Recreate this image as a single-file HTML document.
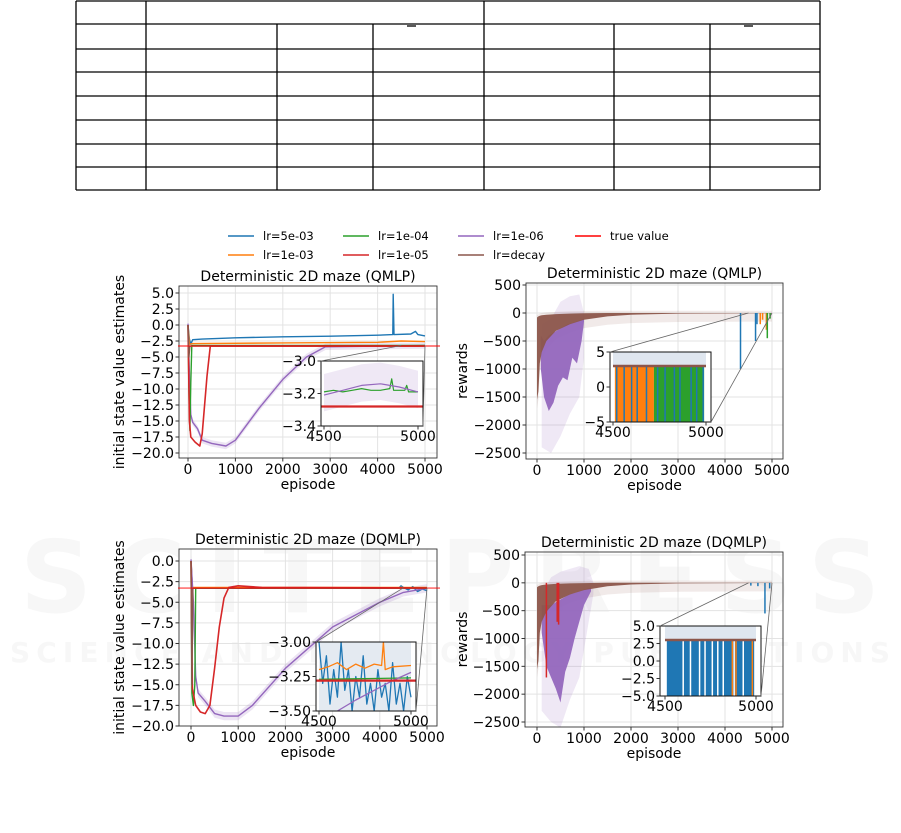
<!DOCTYPE html>
<html><head><meta charset="utf-8"><style>
html,body{margin:0;padding:0;background:#fff;}
svg{display:block;font-family:"DejaVu Sans","Liberation Sans",sans-serif;}
</style></head><body>
<svg id="c" width="901" height="833" viewBox="0 0 901 833" xmlns="http://www.w3.org/2000/svg">
<g fill="#f7f7f7" font-weight="bold">
<text x="450" y="612" font-size="100" text-anchor="middle" textLength="860">SCITEPRESS</text>
<text x="450" y="662" font-size="28" text-anchor="middle" textLength="880">SCIENCE AND TECHNOLOGY PUBLICATIONS</text>
</g>
<g id="table" stroke="#000" stroke-width="1.3"></g>
<g id="legend" font-size="11.5"></g>
<g id="plots"></g>
</svg>
<script>
// ---------- data ----------
const xTicks = [0,1000,2000,3000,4000,5000];
const valTicks1 = [5.0,2.5,0.0,-2.5,-5.0,-7.5,-10.0,-12.5,-15.0,-17.5,-20.0];
const valTicks2 = [0.0,-2.5,-5.0,-7.5,-10.0,-12.5,-15.0,-17.5,-20.0];
const rewTicks = [500,0,-500,-1000,-1500,-2000,-2500];
const trueValue = -3.28;
const seriesNames = ["lr=5e-03","lr=1e-03","lr=1e-04","lr=1e-05","lr=1e-06","lr=decay","true value"];
const seriesColors = ["#1f77b4","#ff7f0e","#2ca02c","#d62728","#9467bd","#8c564b","#ff0000"];

const q1Blue = [[0,0],[30,-2.2],[60,-3],[100,-2.3],[300,-2.2],[1000,-2.0],[2000,-1.85],[3000,-1.75],[4000,-1.6],[4320,-1.5],[4330,4.8],[4345,-1.5],[4700,-1.4],[4800,-1.0],[4850,-1.5],[5000,-1.7]];
const q1Orange = [[0,0],[30,-3.0],[100,-2.9],[2000,-2.8],[4000,-2.7],[4500,-2.5],[5000,-2.6]];
const q1Green = [[0,0],[20,-10],[40,-16.5],[60,-9],[80,-3.2],[5000,-3.2]];
const q1Red = [[0,0],[30,-15],[60,-17.5],[150,-18.3],[250,-18.9],[300,-17],[400,-8],[470,-3.3],[5000,-3.3]];
const q1Purple = [[0,0.2],[20,-5],[60,-14],[100,-15.2],[200,-16.2],[300,-18],[500,-18.5],[800,-18.9],[1000,-18],[1500,-13],[2000,-8.5],[2500,-5],[2900,-3.4],[5000,-3.2]];
const q1Brown = [[0,0],[20,-5],[40,-3.3],[5000,-3.3]];
const q1InsetGreen = [[4500,-3.19],[4550,-3.18],[4600,-3.19],[4650,-3.18],[4700,-3.17],[4750,-3.18],[4800,-3.18],[4850,-3.17],[4860,-3.11],[4870,-3.18],[4930,-3.18],[4940,-3.15],[4950,-3.19],[5000,-3.19]];
const q1InsetPurple = [[4500,-3.21],[4600,-3.18],[4700,-3.15],[4800,-3.14],[4900,-3.16],[5000,-3.19]];

const r1Brown = [[0,-1550,-80],[30,-1400,-60],[60,-900,-50],[100,-700,-40],[200,-500,-30],[400,-320,-20],[700,-200,-10],[1000,-120,-5],[1500,-60,0],[2000,-30,0],[3000,-10,0],[5000,-3,0]];
const r1Purple = [[80,-1000,-400],[150,-1500,-500],[250,-1750,-400],[350,-1600,-350],[450,-1300,-300],[550,-1150,-250],[650,-1200,-200],[750,-800,-180],[850,-900,-150],[950,-500,-120],[1000,-150,-100]];
const r1PurpleStd = [[100,-2400,-200],[300,-2500,-100],[500,-2200,200],[700,-1800,300],[900,-1500,330],[1000,-800,0]];
const r1BlueSpikes = [[4330,-1000],[4650,-500],[4680,-200]];
const r1OrangeSpikes = [[4750,-200],[4800,-120],[4880,-300]];
const r1GreenSpikes = [[4900,-450],[4960,-100]];
const i3Orange = [[4510,4720]];
const i3Green = [[4720,4990]];
const i3BlueStripes = [4520,4560,4600,4630,4680,4740,4780,4830,4860,4920,4950,4985];

const q2Blue = [[0,0],[30,-3.3],[4400,-3.3],[4450,-3.0],[4500,-3.2],[4600,-3.5],[4700,-3.1],[4800,-3.7],[4900,-3.4],[5000,-3.6]];
const q2Orange = [[0,0],[30,-3.2],[5000,-3.2]];
const q2Green = [[0,0],[20,-16],[50,-17.5],[80,-15],[100,-3.3],[5000,-3.27]];
const q2Red = [[0,0],[30,-15.5],[100,-17.5],[200,-18.3],[300,-18.5],[400,-17.5],[500,-13],[600,-8],[700,-4.5],[800,-3.2],[1000,-3.0],[1500,-3.2],[5000,-3.27]];
const q2Purple = [[0,0.2],[50,-5],[100,-14],[150,-16],[300,-17],[500,-18.5],[700,-18.8],[1000,-18.8],[1300,-17.5],[2000,-13],[3000,-8],[4000,-5],[4500,-3.8],[5000,-3.3]];
const q2Brown = [[0,0],[20,-15],[40,-3.3],[5000,-3.3]];
const i4Blue = [[4500,-3.0],[4520,-3.3],[4540,-3.1],[4560,-3.45],[4580,-3.2],[4600,-3.4],[4620,-3.0],[4640,-3.35],[4660,-3.2],[4680,-3.5],[4700,-3.25],[4720,-3.4],[4740,-3.1],[4760,-3.45],[4780,-3.3],[4800,-3.5],[4820,-3.2],[4840,-3.4],[4860,-3.3],[4880,-3.5],[4900,-3.15],[4920,-3.45],[4940,-3.3],[4960,-3.5],[4980,-3.25],[5000,-3.4]];
const i4Orange = [[4500,-3.2],[4550,-3.18],[4600,-3.15],[4650,-3.2],[4700,-3.16],[4750,-3.19],[4800,-3.16],[4840,-3.17],[4850,-3.0],[4860,-3.2],[4900,-3.18],[5000,-3.17]];
const i4Green = [[4500,-3.27],[5000,-3.26]];
const i4Purple = [[4600,-3.5],[4700,-3.42],[4800,-3.35],[4900,-3.28],[5000,-3.22]];

const r2Brown = [[0,-1550,-80],[30,-1400,-60],[60,-900,-50],[100,-700,-40],[200,-520,-30],[400,-330,-20],[700,-210,-10],[1000,-130,-5],[1500,-60,0],[2000,-30,0],[3000,-10,0],[5000,-3,0]];
const r2Purple = [[100,-900,-400],[200,-1500,-400],[300,-1700,-400],[400,-1900,-350],[500,-2150,-300],[600,-1600,-250],[700,-1350,-200],[800,-1000,-180],[900,-700,-150],[1000,-400,-120],[1150,-150,-80]];
const r2PurpleStd = [[100,-2300,-200],[300,-2500,100],[500,-2600,200],[700,-2100,250],[900,-1700,300],[1100,-700,250],[1200,-200,0]];
const r2RedSpikes = [[200,-1700],[430,-700],[460,-750]];
const r2BlueSpikes = [[4550,-50],[4700,-60],[4850,-550],[4950,-100]];
const i5Blue = [[4510,4990]];
const i5WhiteGaps = [4600,4640,4690,4720,4760,4790,4820,4880,4930];
const i5OrangeStripes = [4870,4890,4980];

// ---------- helpers ----------
const NS = "http://www.w3.org/2000/svg";
const svg = document.getElementById('c');
function el(tag, attrs, parent){ const e=document.createElementNS(NS,tag); for(const k in attrs) e.setAttribute(k,attrs[k]); (parent||svg).appendChild(e); return e; }
function lin(d0,d1,r0,r1){ return v => r0+(v-d0)*(r1-r0)/(d1-d0); }
function fmt(v,dec){ const s=Math.abs(v).toFixed(dec); return (v<0?"\u2212":"")+s; }
function linePath(pts,X,Y){ return pts.map((p,i)=>(i?'L':'M')+X(p[0]).toFixed(1)+','+Y(p[1]).toFixed(1)).join(''); }
function bandPath(pts,X,Y){ let d=pts.map((p,i)=>(i?'L':'M')+X(p[0]).toFixed(1)+','+Y(p[2]).toFixed(1)).join(''); for(let i=pts.length-1;i>=0;i--) d+='L'+X(pts[i][0]).toFixed(1)+','+Y(pts[i][1]).toFixed(1); return d+'Z'; }

// ---------- table ----------
const tbl = document.getElementById('table');
const rowsY=[1,24,49,72,96,120,144,167,190];
const colX=[76,146,277,373,484,614,710,820];
rowsY.forEach(y=>{ const l=el('line',{x1:76,x2:820,y1:y,y2:y},tbl);   });
colX.forEach((x,i)=>{ const top=(i===0||i===1||i===4||i===7)?1:24; const l=el('line',{x1:x,x2:x,y1:top,y2:190},tbl);   });
el('line',{x1:407,x2:416,y1:26,y2:26},tbl);
el('line',{x1:744,x2:753,y1:26,y2:26},tbl);

// ---------- legend ----------
const lg=document.getElementById('legend');
const legPos=[[228,236],[228,255],[343,236],[343,255],[458,236],[458,255],[575,236]];
seriesNames.forEach((n,i)=>{
  const g=el('g',{},lg);
  
  
  const [x,y]=legPos[i];
  el('line',{x1:x,x2:x+26,y1:y,y2:y,stroke:seriesColors[i],'stroke-width':1.6},g);
  const t=el('text',{x:x+35,y:y+4,fill:'#000'},g); t.textContent=n;
});

// ---------- panel builder ----------
const FS=14;
const plots=document.getElementById('plots');
function panel(cfg){
  const g=el('g',{},plots);
  
  
  const X=lin(0,5000,cfg.x0,cfg.x5000), Y=lin(cfg.yv0,cfg.yv1,cfg.yp0,cfg.yp1);
  const clipId=cfg.name+'-clip';
  const cp=el('clipPath',{id:clipId},g); el('rect',{x:cfg.L,y:cfg.T,width:cfg.R-cfg.L,height:cfg.B-cfg.T},cp);
  xTicks.forEach(v=>el('line',{x1:X(v),x2:X(v),y1:cfg.T,y2:cfg.B,stroke:'#e3e3e3','stroke-width':1},g));
  cfg.yTicks.forEach(v=>el('line',{x1:cfg.L,x2:cfg.R,y1:Y(v),y2:Y(v),stroke:'#e3e3e3','stroke-width':1},g));
  const plotG=el('g',{'clip-path':'url(#'+clipId+')'},g);
  cfg.draw(plotG,X,Y);
  const sp=el('rect',{x:cfg.L,y:cfg.T,width:cfg.R-cfg.L,height:cfg.B-cfg.T,fill:'none',stroke:'#333','stroke-width':0.9},g);
   
  const xt=el('g',{'font-size':FS,'text-anchor':'middle'},g);
   
  xTicks.forEach(v=>{ el('line',{x1:X(v),x2:X(v),y1:cfg.B,y2:cfg.B+3.5,stroke:'#333'},xt); const t=el('text',{x:X(v),y:cfg.B+16},xt); t.textContent=String(v); });
  const yt=el('g',{'font-size':FS,'text-anchor':'end'},g);
   
  cfg.yTicks.forEach(v=>{ el('line',{x1:cfg.L-3.5,x2:cfg.L,y1:Y(v),y2:Y(v),stroke:'#333'},yt); const t=el('text',{x:cfg.L-5,y:Y(v)+5},yt); t.textContent=fmt(v,cfg.ydec); });
  const tt=el('text',{x:(cfg.L+cfg.R)/2,y:cfg.T-5,'font-size':FS,'text-anchor':'middle'},g); tt.textContent=cfg.title;
   
  const xl=el('text',{x:(cfg.L+cfg.R)/2,y:cfg.B+31,'font-size':FS,'text-anchor':'middle'},g); xl.textContent='episode';
   
  const yc=(cfg.T+cfg.B)/2;
  const yl=el('text',{x:cfg.ylx,y:yc,'font-size':FS,'text-anchor':'middle',transform:'rotate(-90 '+cfg.ylx+' '+yc+')'},g); yl.textContent=cfg.ylabel;
   
  if(cfg.truth){ const l=el('line',{x1:cfg.L-1,x2:cfg.R+3,y1:Y(trueValue),y2:Y(trueValue),stroke:'#ff0000','stroke-width':1.2,'stroke-opacity':0.8},g);   }
  const ins=cfg.inset;
  const ig=el('g',{},g);
   
  const IX=lin(4500,5000,ins.x0,ins.x1), IY=lin(ins.yv0,ins.yv1,ins.T,ins.B);
  el('line',{x1:ins.L,y1:ins.T,x2:X(4500),y2:Y(ins.cy),stroke:'#666','stroke-width':0.8},g);
  el('line',{x1:ins.R,y1:ins.B,x2:X(5000),y2:Y(ins.cy),stroke:'#666','stroke-width':0.8},g);
  el('rect',{x:ins.L,y:ins.T,width:ins.R-ins.L,height:ins.B-ins.T,fill:'#fff'},ig);
  const icp=el('clipPath',{id:clipId+'-i'},ig); el('rect',{x:ins.L,y:ins.T,width:ins.R-ins.L,height:ins.B-ins.T},icp);
  const iplot=el('g',{'clip-path':'url(#'+clipId+'-i)'},ig);
  ins.draw(iplot,IX,IY);
  el('rect',{x:ins.L,y:ins.T,width:ins.R-ins.L,height:ins.B-ins.T,fill:'none',stroke:'#111','stroke-width':1},ig);
  const iyt=el('g',{'font-size':FS,'text-anchor':'end'},ig);
  ins.yTicks.forEach(v=>{ el('line',{x1:ins.L-3.5,x2:ins.L,y1:IY(v),y2:IY(v),stroke:'#333'},iyt); const t=el('text',{x:ins.L-5,y:IY(v)+5},iyt); t.textContent=ins.yfmt(v); });
  const ixt=el('g',{'font-size':FS,'text-anchor':'middle'},ig);
  [4500,5000].forEach(v=>{ el('line',{x1:IX(v),x2:IX(v),y1:ins.B,y2:ins.B+3.5,stroke:'#333'},ixt); const t=el('text',{x:IX(v),y:ins.B+15},ixt); t.textContent=String(v); });
}
function addLine(g,pts,X,Y,color,w,name){ const p=el('path',{d:linePath(pts,X,Y),fill:'none',stroke:color,'stroke-width':w||1.4,'stroke-linejoin':'round'},g);   return p; }
function addBand(g,pts,X,Y,color,op,name){ const p=el('path',{d:bandPath(pts,X,Y),fill:color,'fill-opacity':op,stroke:'none'},g);   return p; }
function addSpikes(g,sp,X,Y,color,name){ sp.forEach(s=>{ const l=el('line',{x1:X(s[0]),x2:X(s[0]),y1:Y(0),y2:Y(s[1]),stroke:color,'stroke-width':1.5},g);   }); }
function valueSeries(g,X,Y,s){
  addBand(g,s.purple.map(p=>[p[0],p[1]-0.5,p[1]+0.5]),X,Y,'#9467bd',0.18,'purple-band');
  addLine(g,s.blue,X,Y,seriesColors[0],1.4,'series-lr-5e-03');
  addLine(g,s.orange,X,Y,seriesColors[1],1.4,'series-lr-1e-03');
  addLine(g,s.purple,X,Y,seriesColors[4],1.4,'series-lr-1e-06');
  addLine(g,s.green,X,Y,seriesColors[2],1.4,'series-lr-1e-04');
  addLine(g,s.red,X,Y,seriesColors[3],1.6,'series-lr-1e-05');
  addLine(g,s.brown,X,Y,seriesColors[5],1.4,'series-lr-decay');
}

panel({name:'qmlp-value-chart',title:'Deterministic 2D maze (QMLP)',ylabel:'initial state value estimates',ylx:124,truth:true,
  L:179,R:437,T:286,B:458,x0:188,x5000:425,yv0:5,yv1:-20,yp0:293,yp1:453,yTicks:valTicks1,ydec:1,
  draw:(g,X,Y)=>{ valueSeries(g,X,Y,{blue:q1Blue,orange:q1Orange,green:q1Green,red:q1Red,purple:q1Purple,brown:q1Brown}); },
  inset:{L:321,R:423,T:361,B:426,x0:324,x1:418,yv0:-3.0,yv1:-3.4,cy:-3.2,yTicks:[-3.0,-3.2,-3.4],yfmt:v=>fmt(v,1),
    draw:(g,X,Y)=>{ addBand(g,q1InsetPurple.map(p=>[p[0],p[1]-0.1,p[1]+0.13]),X,Y,'#9467bd',0.15,'purple-band');
      addLine(g,q1InsetGreen,X,Y,seriesColors[2],1.2,'inset-lr-1e-04');
      addLine(g,q1InsetPurple,X,Y,seriesColors[4],1.2,'inset-lr-1e-06');
      const l=el('line',{x1:0,x2:901,y1:Y(trueValue),y2:Y(trueValue),stroke:'#d62728','stroke-width':2.2},g);   }}
});

function rewardInsetBase(g,X,Y){ const r=el('rect',{x:X(4500),y:Y(5),width:X(5000)-X(4500),height:Y(3)-Y(5),fill:'#c9d6e4','fill-opacity':0.6},g);   }
function blocks(g,arr,X,Y,color,name){ arr.forEach(b=>{ const r=el('rect',{x:X(b[0]),y:Y(3),width:X(b[1])-X(b[0]),height:Y(-5)-Y(3),fill:color},g);   }); }
function stripes(g,arr,X,Y,color,w,name){ arr.forEach(v=>{ const l=el('line',{x1:X(v),x2:X(v),y1:Y(3),y2:Y(-5),stroke:color,'stroke-width':w},g);   }); }
function brownTop(g,X,Y){ const l=el('line',{x1:X(4500),x2:X(5000),y1:Y(3),y2:Y(3),stroke:'#8c564b','stroke-width':2.5},g);   }
panel({name:'qmlp-rewards-chart',title:'Deterministic 2D maze (QMLP)',ylabel:'rewards',ylx:467,
  L:526,R:783,T:283,B:459,x0:537,x5000:772,yv0:500,yv1:-2500,yp0:285,yp1:453,yTicks:rewTicks,ydec:0,
  draw:(g,X,Y)=>{ addBand(g,r1PurpleStd,X,Y,'#9467bd',0.15,'purple-std');
    addBand(g,r1Brown.map(p=>[p[0],p[1]-150,p[2]+40]),X,Y,'#8c564b',0.12,'brown-std');
    addBand(g,r1Purple,X,Y,'#9467bd',0.95,'series-lr-1e-06');
    addBand(g,r1Brown,X,Y,'#8c564b',0.95,'series-lr-decay');
    addSpikes(g,r1BlueSpikes,X,Y,seriesColors[0],'spike-lr-5e-03');
    addSpikes(g,r1OrangeSpikes,X,Y,seriesColors[1],'spike-lr-1e-03');
    addSpikes(g,r1GreenSpikes,X,Y,seriesColors[2],'spike-lr-1e-04'); },
  inset:{L:610,R:711,T:352,B:422,x0:613,x1:706,yv0:5,yv1:-5,cy:0,yTicks:[5,0,-5],yfmt:v=>fmt(v,0),
    draw:(g,X,Y)=>{ rewardInsetBase(g,X,Y); blocks(g,i3Orange,X,Y,seriesColors[1],'inset-lr-1e-03'); blocks(g,i3Green,X,Y,seriesColors[2],'inset-lr-1e-04');
      stripes(g,i3BlueStripes,X,Y,seriesColors[0],1.5,'inset-lr-5e-03'); brownTop(g,X,Y); }}
});

panel({name:'dqmlp-value-chart',title:'Deterministic 2D maze (DQMLP)',ylabel:'initial state value estimates',ylx:124,truth:true,
  L:179,R:437,T:549,B:726,x0:191,x5000:427,yv0:0,yv1:-20,yp0:561,yp1:726,yTicks:valTicks2,ydec:1,
  draw:(g,X,Y)=>{ valueSeries(g,X,Y,{blue:q2Blue,orange:q2Orange,green:q2Green,red:q2Red,purple:q2Purple,brown:q2Brown}); },
  inset:{L:316,R:416,T:642,B:711,x0:319,x1:411,yv0:-3.0,yv1:-3.5,cy:-3.25,yTicks:[-3.0,-3.25,-3.5],yfmt:v=>fmt(v,2),
    draw:(g,X,Y)=>{ el('rect',{x:X(4500),y:Y(-3.0),width:X(5000)-X(4500),height:Y(-3.5)-Y(-3.0),fill:'#c9d6e4','fill-opacity':0.5},g);
      addLine(g,i4Blue,X,Y,seriesColors[0],1.3,'inset-lr-5e-03');
      addLine(g,i4Orange,X,Y,seriesColors[1],1.3,'inset-lr-1e-03');
      addLine(g,i4Green,X,Y,seriesColors[2],1.3,'inset-lr-1e-04');
      addLine(g,i4Purple,X,Y,seriesColors[4],1.3,'inset-lr-1e-06');
      const l=el('line',{x1:0,x2:901,y1:Y(trueValue),y2:Y(trueValue),stroke:'#d62728','stroke-width':2.2},g);   }}
});

panel({name:'dqmlp-rewards-chart',title:'Deterministic 2D maze (DQMLP)',ylabel:'rewards',ylx:467,
  L:525,R:783,T:552,B:727,x0:537,x5000:772,yv0:500,yv1:-2500,yp0:555,yp1:722,yTicks:rewTicks,ydec:0,
  draw:(g,X,Y)=>{ addBand(g,r2PurpleStd,X,Y,'#9467bd',0.15,'purple-std');
    addBand(g,r2Brown.map(p=>[p[0],p[1]-150,p[2]+40]),X,Y,'#8c564b',0.12,'brown-std');
    addBand(g,r2Purple,X,Y,'#9467bd',0.95,'series-lr-1e-06');
    addBand(g,r2Brown,X,Y,'#8c564b',0.95,'series-lr-decay');
    addSpikes(g,r2RedSpikes,X,Y,seriesColors[3],'spike-lr-1e-05');
    addSpikes(g,r2BlueSpikes,X,Y,seriesColors[0],'spike-lr-5e-03'); },
  inset:{L:660,R:761,T:626,B:696,x0:665,x1:756,yv0:5,yv1:-5,cy:0,yTicks:[5.0,2.5,0.0,-2.5,-5.0],yfmt:v=>fmt(v,1),
    draw:(g,X,Y)=>{ rewardInsetBase(g,X,Y); blocks(g,i5Blue,X,Y,seriesColors[0],'inset-lr-5e-03');
      stripes(g,i5WhiteGaps,X,Y,'#ffffff',1.5,'inset-gap'); stripes(g,i5OrangeStripes,X,Y,seriesColors[1],1.5,'inset-lr-1e-03'); brownTop(g,X,Y); }}
});
</script>
</body></html>
